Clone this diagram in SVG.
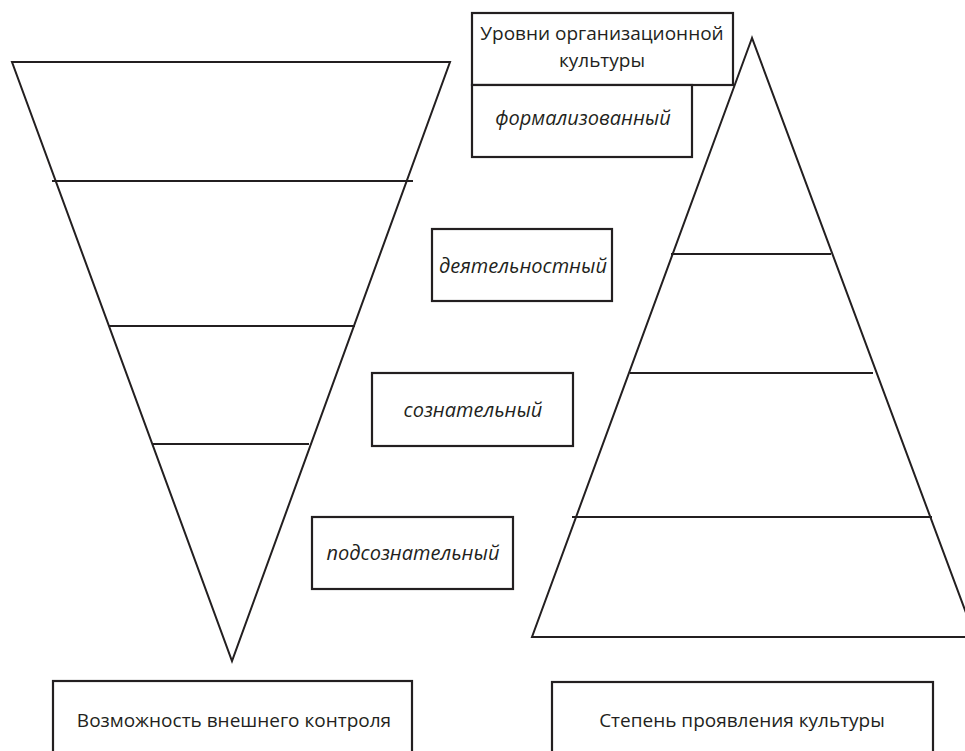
<svg xmlns="http://www.w3.org/2000/svg" width="965" height="751" viewBox="0 0 965 751">
<style>
.ln{stroke:#231f20;stroke-width:2;fill:none}
.bx{stroke:#231f20;stroke-width:2.2;fill:#fff}
.t{font-family:"Open Sans","Noto Sans",sans-serif;font-size:19px;fill:#231f20;text-anchor:middle}
.i{font-style:italic;font-size:20px}
</style>
<rect width="965" height="751" fill="#fff"/>
<g id="connectors">
<polygon class="ln" points="12,62 450,62 232,661"/>
<line class="ln" x1="52" y1="181" x2="413" y2="181"/>
<line class="ln" x1="109" y1="326" x2="355" y2="326"/>
<line class="ln" x1="152" y1="444" x2="309" y2="444"/>
<polygon class="ln" points="752,38 532,637 975,637"/>
<line class="ln" x1="671" y1="254" x2="831" y2="254"/>
<line class="ln" x1="630" y1="373" x2="873" y2="373"/>
<line class="ln" x1="572" y1="517" x2="932" y2="517"/>
</g>
<g id="title">
<rect class="bx" x="472" y="13" width="261" height="72"/>
<text class="t" x="602" y="40">Уровни организационной</text>
<text class="t" x="602" y="67">культуры</text>
</g>
<g id="formal">
<rect class="bx" x="472" y="85" width="220" height="72"/>
<text class="t i" x="583" y="125">формализованный</text>
</g>
<g id="activity">
<rect class="bx" x="432" y="229" width="180" height="72"/>
<text class="t i" x="523" y="273">деятельностный</text>
</g>
<g id="conscious">
<rect class="bx" x="372" y="373" width="201" height="73"/>
<text class="t i" x="473" y="417">сознательный</text>
</g>
<g id="subconscious">
<rect class="bx" x="312" y="517" width="201" height="72"/>
<text class="t i" x="413" y="560">подсознательный</text>
</g>
<g id="control">
<rect class="bx" x="53" y="681" width="359" height="80"/>
<text class="t" x="234" y="727">Возможность внешнего контроля</text>
</g>
<g id="degree">
<rect class="bx" x="552" y="682" width="381" height="80"/>
<text class="t" x="742" y="727">Степень проявления культуры</text>
</g>
</svg>
